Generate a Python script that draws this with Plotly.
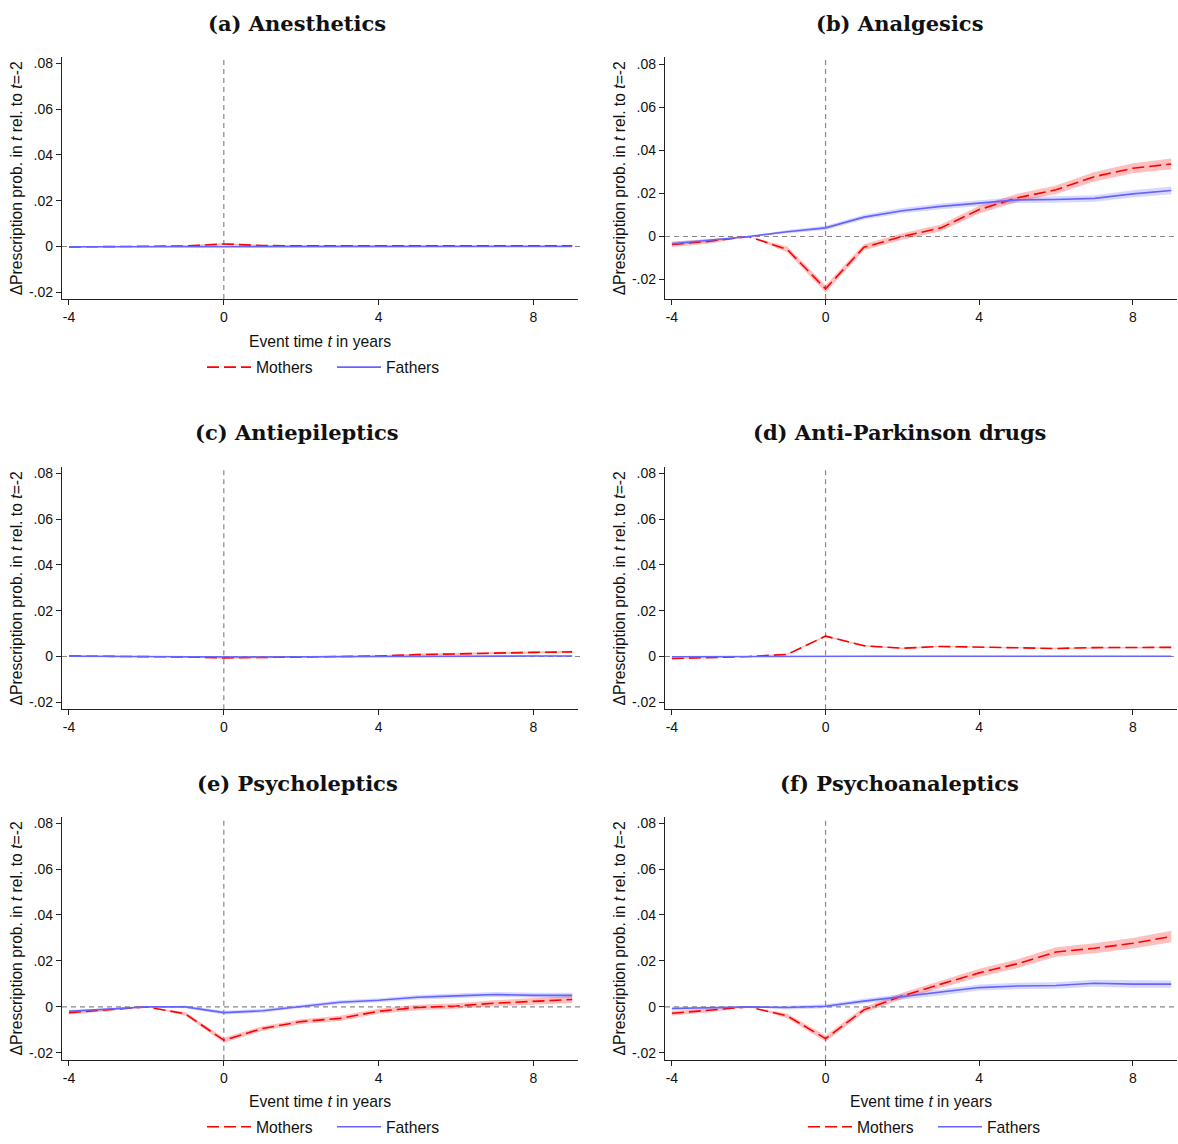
import plotly.graph_objects as go

# ---------------- data ----------------
event_time = [-4, -3, -2, -1, 0, 1, 2, 3, 4, 5, 6, 7, 8, 9]

panel_titles = ["(a) Anesthetics", "(b) Analgesics", "(c) Antiepileptics",
                "(d) Anti-Parkinson drugs", "(e) Psycholeptics", "(f) Psychoanaleptics"]

a_mothers = [-0.0002, -0.0001, 0.0, 0.0002, 0.0011, 0.0004, 0.0003, 0.0003, 0.0003, 0.0003, 0.0003, 0.0003, 0.0003, 0.0003]
a_mothers_ci = [0.0003, 0.0002, 0.0, 0.0003, 0.0004, 0.0003, 0.0003, 0.0003, 0.0003, 0.0003, 0.0003, 0.0003, 0.0003, 0.0003]
a_fathers = [-0.0001, -0.0001, 0.0, 0.0, 0.0, 0.0, 0.0, 0.0, 0.0, 0.0, 0.0, 0.0, 0.0, 0.0]
a_fathers_ci = [0.0002, 0.0001, 0.0, 0.0002, 0.0002, 0.0002, 0.0002, 0.0002, 0.0002, 0.0002, 0.0002, 0.0002, 0.0002, 0.0002]

b_mothers = [-0.0037, -0.0022, 0.0, -0.006, -0.0243, -0.005, 0.0, 0.004, 0.0125, 0.018, 0.0217, 0.0278, 0.0317, 0.0337]
b_mothers_ci = [0.0012, 0.001, 0.0, 0.0013, 0.0017, 0.0014, 0.0015, 0.0016, 0.0018, 0.0019, 0.002, 0.0022, 0.0023, 0.0025]
b_fathers = [-0.0034, -0.0017, 0.0, 0.0022, 0.004, 0.009, 0.012, 0.014, 0.0155, 0.017, 0.0172, 0.0177, 0.0198, 0.0214]
b_fathers_ci = [0.0009, 0.0007, 0.0, 0.0008, 0.001, 0.0011, 0.0012, 0.0013, 0.0013, 0.0014, 0.0015, 0.0015, 0.0017, 0.0018]

c_mothers = [0.0002, 0.0001, 0.0, -0.0002, -0.0006, -0.0004, -0.0002, 0.0, 0.0002, 0.0008, 0.0012, 0.0016, 0.0018, 0.002]
c_mothers_ci = [0.0003, 0.0002, 0.0, 0.0003, 0.0004, 0.0004, 0.0004, 0.0004, 0.0004, 0.0005, 0.0005, 0.0005, 0.0005, 0.0005]
c_fathers = [0.0001, 0.0, 0.0, -0.0001, -0.0003, -0.0002, -0.0001, 0.0, 0.0, 0.0001, 0.0001, 0.0001, 0.0002, 0.0002]
c_fathers_ci = [0.0002, 0.0002, 0.0, 0.0002, 0.0002, 0.0002, 0.0002, 0.0002, 0.0002, 0.0002, 0.0002, 0.0002, 0.0002, 0.0002]

d_mothers = [-0.0009, -0.0006, 0.0, 0.0009, 0.0089, 0.0047, 0.0036, 0.0044, 0.004, 0.0039, 0.0035, 0.0039, 0.0039, 0.004]
d_mothers_ci = [0.0003, 0.0002, 0.0, 0.0003, 0.0004, 0.0003, 0.0003, 0.0003, 0.0003, 0.0003, 0.0003, 0.0003, 0.0003, 0.0003]
d_fathers = [-0.0001, 0.0, 0.0, 0.0, 0.0001, 0.0001, 0.0001, 0.0001, 0.0001, 0.0001, 0.0001, 0.0001, 0.0001, 0.0001]
d_fathers_ci = [0.0001, 0.0001, 0.0, 0.0001, 0.0001, 0.0001, 0.0001, 0.0001, 0.0001, 0.0001, 0.0001, 0.0001, 0.0001, 0.0001]

e_mothers = [-0.0025, -0.0013, 0.0, -0.003, -0.0145, -0.0094, -0.0064, -0.005, -0.0019, -0.0003, 0.0004, 0.0016, 0.0025, 0.0032]
e_mothers_ci = [0.0008, 0.0006, 0.0, 0.0008, 0.0011, 0.001, 0.001, 0.0011, 0.0011, 0.0012, 0.0012, 0.0013, 0.0014, 0.0015]
e_fathers = [-0.0019, -0.001, 0.0, 0.0, -0.0025, -0.0017, 0.0003, 0.002, 0.0029, 0.0042, 0.0048, 0.0054, 0.005, 0.005]
e_fathers_ci = [0.0006, 0.0005, 0.0, 0.0006, 0.0008, 0.0008, 0.0008, 0.0009, 0.0009, 0.001, 0.001, 0.0011, 0.0011, 0.0012]

f_mothers = [-0.0028, -0.0015, 0.0, -0.0039, -0.0138, -0.0013, 0.0048, 0.0099, 0.0148, 0.0188, 0.0239, 0.0255, 0.0277, 0.0306]
f_mothers_ci = [0.001, 0.0008, 0.0, 0.001, 0.0013, 0.0013, 0.0014, 0.0016, 0.0018, 0.0019, 0.0021, 0.0022, 0.0023, 0.0025]
f_fathers = [-0.0007, -0.0004, 0.0, -0.0003, 0.0003, 0.0025, 0.0045, 0.0062, 0.0084, 0.0091, 0.0093, 0.0103, 0.0099, 0.0099]
f_fathers_ci = [0.0008, 0.0006, 0.0, 0.0008, 0.0009, 0.001, 0.0011, 0.0012, 0.0013, 0.0014, 0.0014, 0.0015, 0.0016, 0.0016]

y_tickvals = [-0.02, 0.0, 0.02, 0.04, 0.06, 0.08]
y_ticktext = ["-.02", "0", ".02", ".04", ".06", ".08"]
x_tickvals = [-4, 0, 4, 8]
x_ticktext = ["-4", "0", "4", "8"]

series_labels = ["Mothers", "Fathers"]
y_title = "ΔPrescription prob. in <i>t</i> rel. to <i>t</i>=-2"
x_title = "Event time <i>t</i> in years"

panels = [
    (a_mothers, a_mothers_ci, a_fathers, a_fathers_ci),
    (b_mothers, b_mothers_ci, b_fathers, b_fathers_ci),
    (c_mothers, c_mothers_ci, c_fathers, c_fathers_ci),
    (d_mothers, d_mothers_ci, d_fathers, d_fathers_ci),
    (e_mothers, e_mothers_ci, e_fathers, e_fathers_ci),
    (f_mothers, f_mothers_ci, f_fathers, f_fathers_ci),
]

# ---------------- layout geometry ----------------
W, H = 1178, 1144
col_x = [(62, 578), (665, 1177)]
row_y = [(56, 300), (470, 714), (823, 1068)]
y_ranges = [[-0.023, 0.0826], [-0.0291, 0.0832],
            [-0.023, 0.0826], [-0.023, 0.0826],
            [-0.023, 0.0826], [-0.023, 0.0826]]
x_range = [-4.18, 9.15]
title_pos = [(297, 22), (899, 22), (297, 435), (899, 435), (297, 789), (899, 789)]
legend_map = {0: "legend", 4: "legend2", 5: "legend3"}
has_xtitle = {0, 4, 5}

RED = "#FF0000"
BLUE = "#6464FF"
RED_FILL = "rgba(255,0,0,0.25)"
BLUE_FILL = "rgba(100,100,255,0.25)"
AXIS_COLOR = "#222222"
FS = 15.7
TICK_FONT = dict(family="Liberation Sans, Arial, sans-serif", size=14, color="#111111")
TITLE_FONT = dict(family="Liberation Sans, Arial, sans-serif", size=FS, color="#111111")

fig = go.Figure()
layout = dict(width=W, height=H, margin=dict(l=0, r=0, t=0, b=0),
              paper_bgcolor="white", plot_bgcolor="white", showlegend=True)
annotations = []
shapes = []

for i, (m, mci, f, fci) in enumerate(panels):
    r, c = divmod(i, 2)
    n = i + 1
    xa = "x" if n == 1 else f"x{n}"
    ya = "y" if n == 1 else f"y{n}"
    xkey = "xaxis" if n == 1 else f"xaxis{n}"
    ykey = "yaxis" if n == 1 else f"yaxis{n}"
    x0, x1 = col_x[c]
    yt, yb = row_y[r]

    layout[xkey] = dict(
        domain=[x0 / W, x1 / W], anchor=ya, range=x_range,
        tickvals=x_tickvals, ticktext=x_ticktext, ticks="outside", ticklen=5,
        tickcolor=AXIS_COLOR, showline=True, linecolor=AXIS_COLOR, linewidth=1.3,
        showgrid=False, zeroline=False, tickfont=TICK_FONT,
    )
    if i in has_xtitle:
        layout[xkey]["title"] = dict(text=x_title, font=TITLE_FONT, standoff=11)
    layout[ykey] = dict(
        domain=[1 - yb / H, 1 - yt / H], anchor=xa, range=y_ranges[i],
        tickvals=y_tickvals, ticktext=y_ticktext, ticks="outside", ticklen=5,
        tickcolor=AXIS_COLOR, showline=True, linecolor=AXIS_COLOR, linewidth=1.3,
        showgrid=False, zeroline=False, tickfont=TICK_FONT, ticklabelstandoff=0,
        title=dict(text=y_title, font=TITLE_FONT, standoff=2),
    )

    # confidence bands
    for vals, ci, fillc in ((f, fci, BLUE_FILL), (m, mci, RED_FILL)):
        upper = [v + e for v, e in zip(vals, ci)]
        lower = [v - e for v, e in zip(vals, ci)]
        fig.add_trace(go.Scatter(
            x=event_time + event_time[::-1], y=upper + lower[::-1],
            xaxis=xa, yaxis=ya, fill="toself", fillcolor=fillc,
            line=dict(width=0), mode="lines", hoverinfo="skip", showlegend=False))

    lg = legend_map.get(i)
    fig.add_trace(go.Scatter(
        x=event_time, y=m, xaxis=xa, yaxis=ya, mode="lines", name=series_labels[0],
        line=dict(color=RED, width=1.6, dash="12px,5px"),
        showlegend=lg is not None, legend=lg if lg else "legend", legendrank=1))
    fig.add_trace(go.Scatter(
        x=event_time, y=f, xaxis=xa, yaxis=ya, mode="lines", name=series_labels[1],
        line=dict(color=BLUE, width=1.6),
        showlegend=lg is not None, legend=lg if lg else "legend", legendrank=2))

    # reference lines
    shapes.append(dict(type="line", xref=f"{xa} domain", yref=ya, x0=0, x1=1.01, y0=0, y1=0,
                       line=dict(color="#888888", width=1.2, dash="5px,4px"), layer="below"))
    shapes.append(dict(type="line", xref=xa, yref=f"{ya} domain", x0=0, x1=0, y0=0, y1=1,
                       line=dict(color="#888888", width=1.2, dash="5px,4px"), layer="below"))

    tx, ty = title_pos[i]
    annotations.append(dict(text=f"<b>{panel_titles[i]}</b>", x=tx / W, y=1 - ty / H,
                            xref="paper", yref="paper", xanchor="center", yanchor="middle",
                            showarrow=False,
                            font=dict(family="DejaVu Serif, Liberation Serif, serif", size=21, color="#111111")))

legend_style = dict(orientation="h", xanchor="center", yanchor="middle",
                    font=dict(family="Liberation Sans, Arial, sans-serif", size=FS, color="#111111"),
                    bgcolor="rgba(0,0,0,0)", traceorder="normal", itemwidth=44,
                    entrywidth=71, entrywidthmode="pixels")
layout["legend"] = dict(x=332 / W, y=1 - 369 / H, **legend_style)
layout["legend2"] = dict(x=332 / W, y=1 - 1136 / H, **legend_style)
layout["legend3"] = dict(x=933 / W, y=1 - 1136 / H, **legend_style)
layout["annotations"] = annotations
layout["shapes"] = shapes

fig.update_layout(**layout)
fig.write_html("out.html", config={"displayModeBar": False},
               post_script="document.body.style.margin='0';document.body.style.overflow='hidden';")
